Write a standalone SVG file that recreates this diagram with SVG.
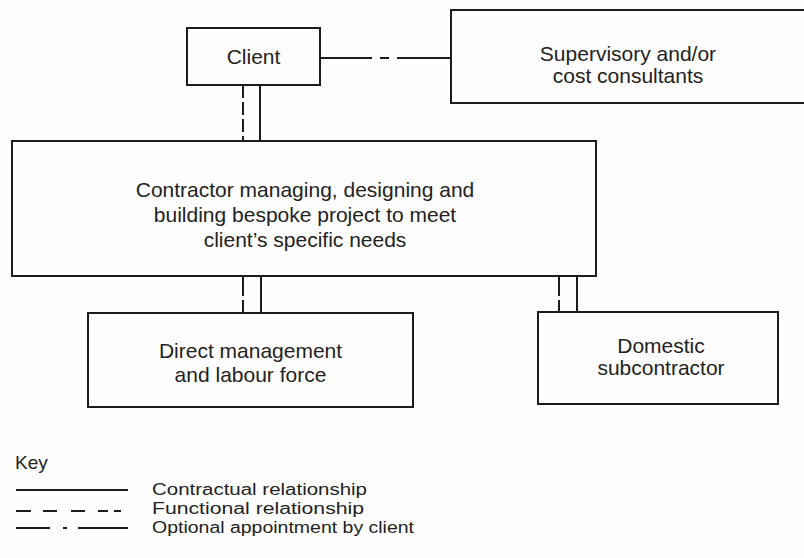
<svg xmlns="http://www.w3.org/2000/svg" width="804" height="558" viewBox="0 0 804 558">
  <style>
    .box { fill: none; stroke: #1c1c1c; stroke-width: 2; }
    .ln { fill: none; stroke: #1c1c1c; stroke-width: 2; }
    .fn { fill: none; stroke: #1c1c1c; stroke-width: 2; stroke-dasharray: 13 4; }
    .t { font-family: "Liberation Sans", Arial, Helvetica, sans-serif; font-size: 21px; fill: #222; text-anchor: middle; }
    .k { font-family: "Liberation Sans", Arial, Helvetica, sans-serif; font-size: 16px; fill: #222; }
    .kh { font-size: 19px; }
  </style>
  <rect x="0" y="0" width="804" height="558" fill="#fefefe"/>

  <g id="client">
    <rect class="box" x="187" y="28" width="133" height="57"/>
    <text class="t" x="253.5" y="64">Client</text>
  </g>

  <g id="consultants">
    <rect class="box" x="451" y="10" width="360" height="93"/>
    <text class="t" x="628" y="61">Supervisory and/or</text>
    <text class="t" x="628" y="83">cost consultants</text>
  </g>

  <g id="contractor">
    <rect class="box" x="12" y="141" width="584" height="135"/>
    <text class="t" x="305" y="197">Contractor managing, designing and</text>
    <text class="t" x="305" y="222">building bespoke project to meet</text>
    <text class="t" x="305" y="247">client’s specific needs</text>
  </g>

  <g id="direct-labour">
    <rect class="box" x="88" y="313" width="325" height="94"/>
    <text class="t" x="250.5" y="358">Direct management</text>
    <text class="t" x="250.5" y="382">and labour force</text>
  </g>

  <g id="domestic-sub">
    <rect class="box" x="538" y="312" width="240" height="92"/>
    <text class="t" x="661" y="353">Domestic</text>
    <text class="t" x="661" y="375">subcontractor</text>
  </g>

  <g id="connectors">
    <!-- optional appointment: client to consultants -->
    <path class="ln" d="M320 58 H372 M380 58 H389 M397 58 H451"/>
    <!-- client to contractor -->
    <path class="fn" d="M243 85 V141"/>
    <path class="ln" d="M260 85 V141"/>
    <!-- contractor to direct management -->
    <path class="ln" d="M243 276 V296 M243 300 V313"/>
    <path class="ln" d="M261 276 V313"/>
    <!-- contractor to domestic subcontractor -->
    <path class="ln" d="M559 276 V296 M559 300 V312"/>
    <path class="ln" d="M577 276 V312"/>
  </g>

  <g id="key">
    <text class="k kh" x="15" y="469">Key</text>
    <path class="ln" d="M16 490 H128"/>
    <text class="k" x="152" y="495" textLength="215" lengthAdjust="spacingAndGlyphs">Contractual relationship</text>
    <path class="ln" d="M16 511 H31 M43 511 H57 M71 511 H85 M98 511 H108 M114 511 H121"/>
    <text class="k" x="152" y="514" textLength="212" lengthAdjust="spacingAndGlyphs">Functional relationship</text>
    <path class="ln" d="M16 528 H50 M63 528 H67 M78 528 H128"/>
    <text class="k" x="152" y="533" textLength="262" lengthAdjust="spacingAndGlyphs">Optional appointment by client</text>
  </g>
</svg>
